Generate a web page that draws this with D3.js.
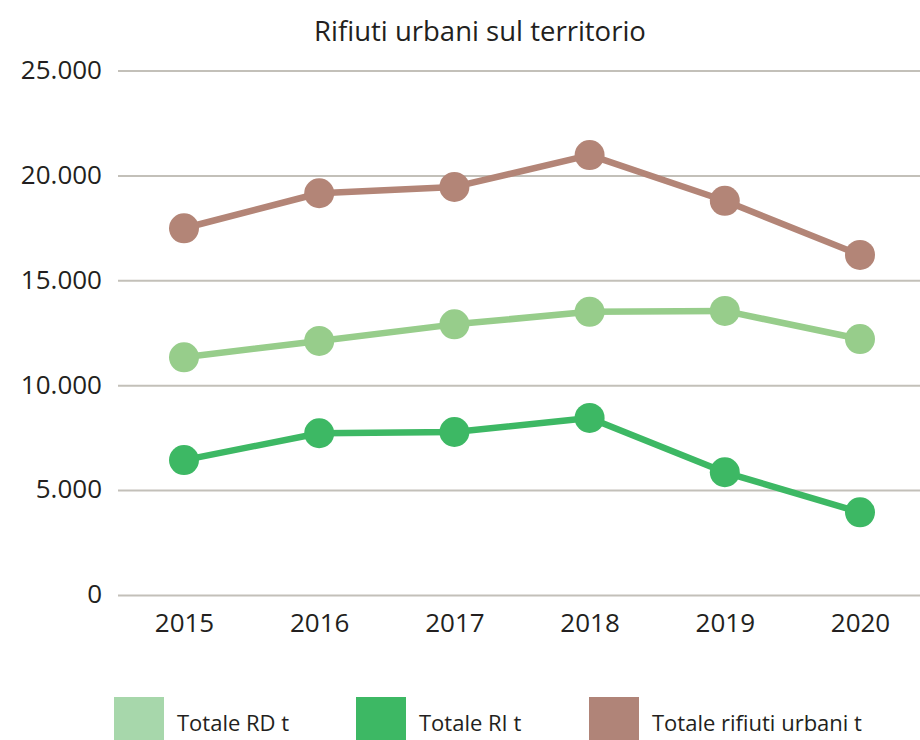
<!DOCTYPE html>
<html>
<head>
<meta charset="utf-8">
<script src="https://cdn.jsdelivr.net/npm/d3@7"></script>
<style>
  html, body { margin: 0; padding: 0; background: #fff; }
  svg { display: block; font-family: 'Open Sans', 'Noto Sans', sans-serif; }
</style>
</head>
<body>
<div id="chart"></div>
<script>
// Data
const years = ['2015', '2016', '2017', '2018', '2019', '2020'];
const totaleRD = [11330, 12110, 12900, 13500, 13540, 12200];
const totaleRI = [6430, 7710, 7770, 8440, 5850, 3940];
const totaleRifiuti = [17480, 19150, 19450, 20970, 18790, 16210];
const yTicks = [0, 5000, 10000, 15000, 20000, 25000];

const seriesNames = ['Totale RD t', 'Totale RI t', 'Totale rifiuti urbani t'];
const lineColors = ['#97cd8b', '#3db864', '#b38577'];
const legendColors = ['#a7d7ab', '#3db864', '#b08478'];

const W = 920, H = 740;
const svg = d3.select('#chart').append('svg')
  .attr('width', W).attr('height', H);

const x = d3.scalePoint().domain(years).range([184, 860]);
const y = d3.scaleLinear().domain([0, 25000]).range([595, 70.5]);

const itFmt = d3.formatLocale({ decimal: ',', thousands: '.', grouping: [3], currency: ['€', ''] }).format(',d');

// Title
svg.append('text')
  .attr('x', 480).attr('y', 41)
  .attr('text-anchor', 'middle')
  .attr('fill', '#231f20')
  .style('font-size', '27.5px')
  .text('Rifiuti urbani sul territorio');

// Y grid + labels
const yAxis = svg.append('g')
  .attr('transform', 'translate(118,0)')
  .call(d3.axisLeft(y).tickValues(yTicks).tickFormat(d => d === 0 ? '0' : itFmt(d))
    .tickSize(-(W - 118)).tickPadding(16));
yAxis.select('.domain').remove();
yAxis.selectAll('.tick line').attr('stroke', '#c3c0b9').attr('stroke-width', 2);
yAxis.selectAll('.tick text')
  .attr('fill', '#231f20')
  .style('font-size', '26px')
  .attr('dy', '0.3em')
  .style('font-family', "'Open Sans', sans-serif");

// X labels
const xAxis = svg.append('g')
  .attr('transform', 'translate(0,595)')
  .call(d3.axisBottom(x).tickSize(0).tickPadding(18));
xAxis.select('.domain').remove();
xAxis.selectAll('.tick text')
  .attr('fill', '#231f20')
  .style('font-size', '26px')
  .attr('dy', '0.72em')
  .style('font-family', "'Open Sans', sans-serif");

// Lines
const allSeries = [totaleRD, totaleRI, totaleRifiuti];
const line = d3.line().x((d, i) => x(years[i])).y(d => y(d));

allSeries.forEach((vals, si) => {
  svg.append('path')
    .datum(vals)
    .attr('d', line)
    .attr('fill', 'none')
    .attr('stroke', lineColors[si])
    .attr('stroke-width', 6.5)
    .attr('stroke-linejoin', 'round');

  svg.selectAll(`.dot-${si}`)
    .data(vals)
    .join('circle')
    .attr('class', `dot-${si}`)
    .attr('cx', (d, i) => x(years[i]))
    .attr('cy', d => y(d))
    .attr('r', 15)
    .attr('fill', lineColors[si]);
});

// Legend
const legendX = [114, 356, 589];
const legend = svg.selectAll('.legend-item')
  .data(seriesNames)
  .join('g')
  .attr('class', 'legend-item')
  .attr('transform', (d, i) => `translate(${legendX[i]},697)`);

legend.append('rect')
  .attr('width', 50).attr('height', 50)
  .attr('fill', (d, i) => legendColors[i]);

legend.append('text')
  .attr('x', 63).attr('y', 34)
  .attr('fill', '#231f20')
  .style('font-size', '22px')
  .text(d => d);
</script>
</body>
</html>
